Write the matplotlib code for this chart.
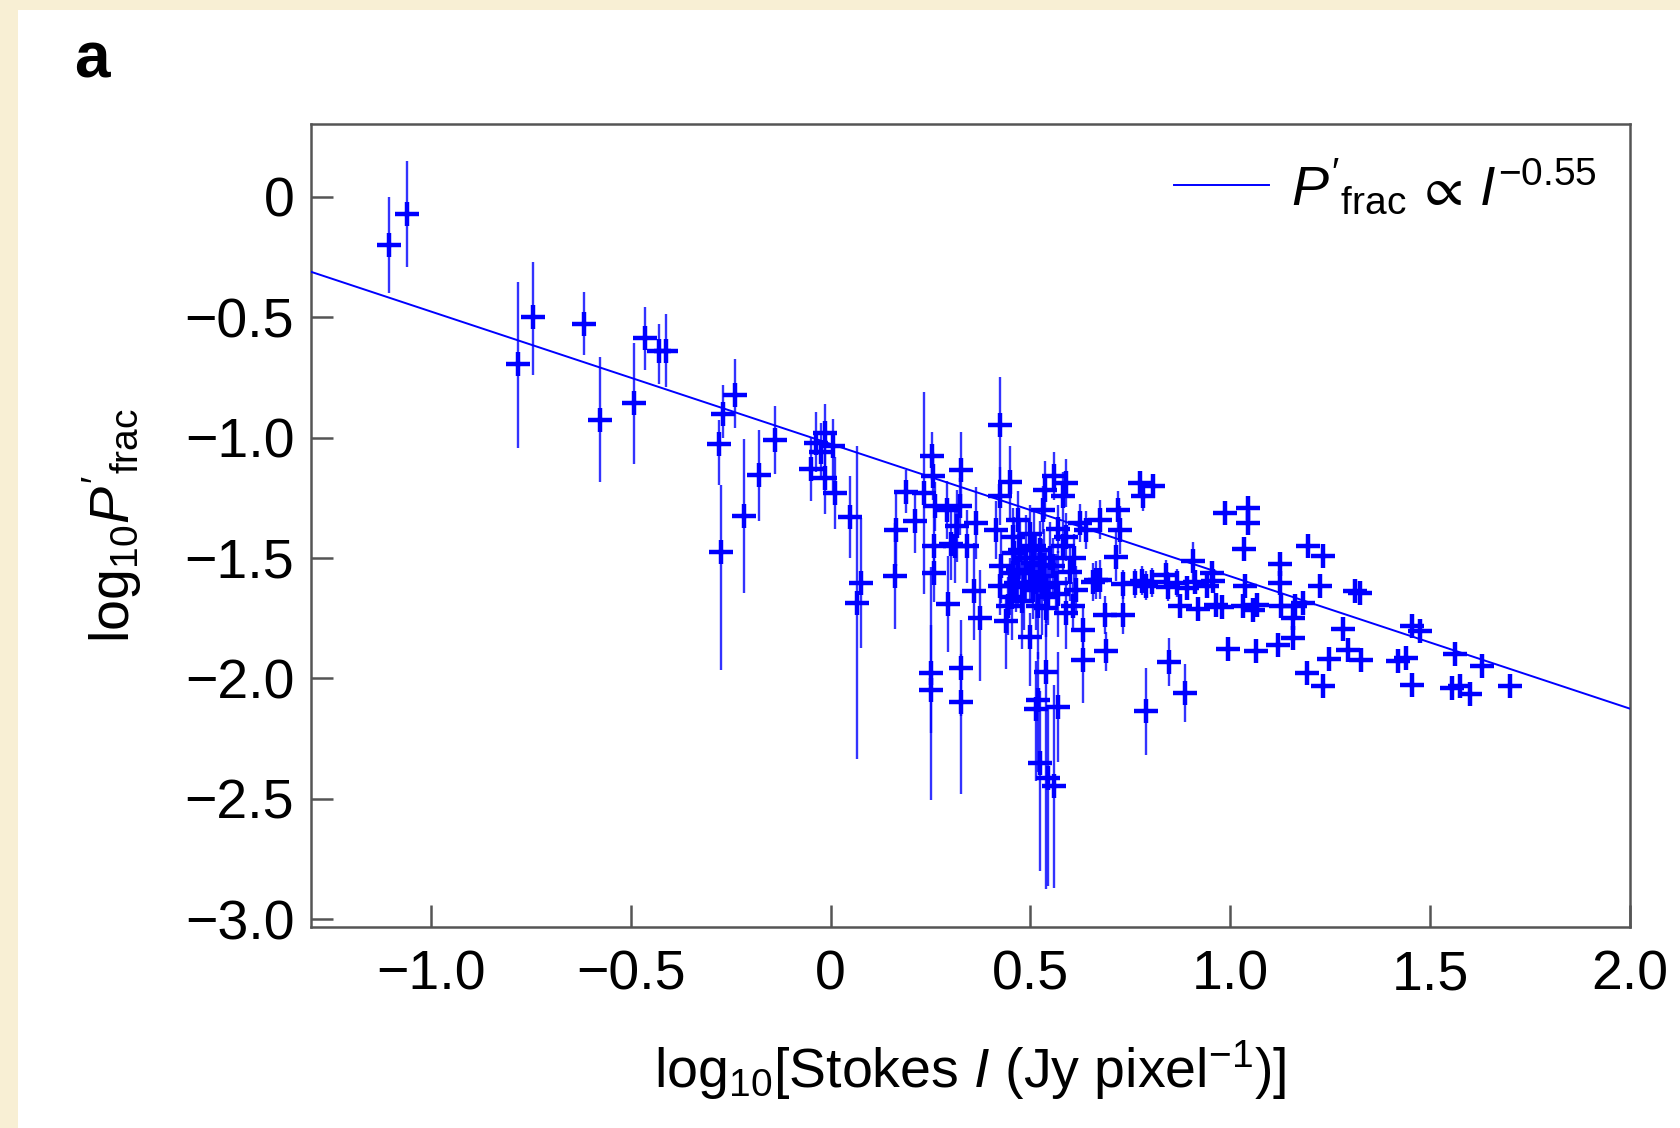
import matplotlib

matplotlib.use("Agg")
import matplotlib.pyplot as plt
from matplotlib.patches import Rectangle
import numpy as np

plt.rcParams["font.family"] = ["Liberation Sans", "DejaVu Sans"]
plt.rcParams["mathtext.fontset"] = "custom"
plt.rcParams["mathtext.rm"] = "Liberation Sans"
plt.rcParams["mathtext.it"] = "Liberation Sans:italic"
plt.rcParams["mathtext.bf"] = "Liberation Sans:bold"
plt.rcParams["mathtext.fallback"] = "stixsans"

# log10 Stokes I, log10 P'frac, lower / upper error on log10 P'frac
log_i = [
    # sparse left part
    -1.104, -1.059, -0.783, -0.745, -0.618, -0.576, -0.491, -0.464, -0.430, -0.411,
    -0.270, -0.240, -0.278, -0.274, -0.217, -0.179, -0.138,
    -0.049, -0.036, -0.013, 0.006, -0.023, -0.013, 0.010, 0.048, 0.077, 0.066,
    # 0.15 .. 0.45
    0.160, 0.164, 0.188, 0.210, 0.233, 0.254, 0.256, 0.250, 0.252, 0.258,
    0.258, 0.260, 0.290, 0.300, 0.315, 0.323, 0.327, 0.310, 0.294, 0.327,
    0.327, 0.340, 0.360, 0.365, 0.373, 0.415, 0.423, 0.423, 0.427, 0.423,
    0.440, 0.444, 0.448, 0.448,
    # dense cluster 0.45 .. 0.67
    0.456, 0.456, 0.465, 0.469, 0.473, 0.498, 0.498, 0.506, 0.506, 0.523,
    0.523, 0.532, 0.536, 0.540, 0.540, 0.544, 0.556, 0.565, 0.582, 0.582,
    0.590, 0.590, 0.560, 0.540, 0.519, 0.513, 0.569, 0.523, 0.544, 0.558,
    0.615, 0.607, 0.632, 0.632, 0.623, 0.640, 0.665,
    0.470, 0.490, 0.510, 0.530, 0.550, 0.570, 0.600, 0.480, 0.520, 0.460,
    0.500, 0.570, 0.610, 0.590, 0.455, 0.515, 0.535, 0.485,
    # middle 0.65 .. 1.17
    0.673, 0.719, 0.723, 0.715, 0.773, 0.807, 0.782, 0.657, 0.673, 0.732,
    0.762, 0.778, 0.790, 0.805, 0.838, 0.845, 0.866, 0.891, 0.911, 0.941,
    0.957, 0.907, 0.953, 0.874, 0.919, 0.965, 0.978, 1.032, 1.058, 1.068,
    1.128, 1.161, 0.686, 0.732, 0.690, 0.986, 1.045, 1.045, 1.035, 1.124,
    1.124, 1.036, 0.995, 1.064, 1.120, 1.157, 1.157, 0.847, 0.886, 0.788,
    # right part
    1.195, 1.233, 1.224, 1.312, 1.324, 1.182, 1.282, 1.295, 1.328, 1.247,
    1.191, 1.233, 1.454, 1.474, 1.420, 1.439, 1.454, 1.562, 1.629, 1.554,
    1.574, 1.599, 1.700,
]
log_p = [
    -0.199, -0.072, -0.695, -0.500, -0.527, -0.926, -0.858, -0.587, -0.638, -0.638,
    -0.903, -0.822, -1.026, -1.476, -1.325, -1.157, -1.009,
    -1.132, -1.023, -0.981, -1.034, -1.058, -1.168, -1.231, -1.331, -1.602, -1.685,
    -1.574, -1.383, -1.224, -1.348, -1.231, -1.078, -1.161, -1.978, -2.047, -1.452,
    -1.563, -1.286, -1.300, -1.440, -1.368, -1.286, -1.136, -1.452, -1.690, -1.957,
    -2.100, -1.452, -1.639, -1.355, -1.750, -1.385, -0.947, -1.244, -1.535, -1.618,
    -1.763, -1.701, -1.186, -1.618,
    -1.411, -1.563, -1.604, -1.341, -1.466, -1.563, -1.830, -1.521, -1.632, -1.466,
    -1.576, -1.300, -1.219, -1.618, -1.708, -1.660, -1.535, -1.604, -1.452, -1.244,
    -1.189, -1.411, -1.160, -1.975, -2.089, -2.128, -2.119, -2.352, -2.414, -2.449,
    -1.632, -1.701, -1.798, -1.923, -1.355, -1.383, -1.591,
    -1.550, -1.500, -1.450, -1.620, -1.500, -1.650, -1.560, -1.680, -1.700, -1.480,
    -1.400, -1.380, -1.500, -1.730, -1.660, -1.600, -1.530, -1.620,
    -1.341, -1.300, -1.383, -1.494, -1.189, -1.200, -1.244, -1.600, -1.590, -1.610,
    -1.605, -1.595, -1.615, -1.600, -1.570, -1.620, -1.604, -1.625, -1.600, -1.615,
    -1.595, -1.514, -1.563, -1.700, -1.710, -1.695, -1.705, -1.700, -1.715, -1.695,
    -1.700, -1.700, -1.736, -1.736, -1.888, -1.311, -1.293, -1.355, -1.463, -1.524,
    -1.602, -1.618, -1.878, -1.888, -1.860, -1.750, -1.833, -1.933, -2.061, -2.137,
    -1.452, -1.491, -1.615, -1.639, -1.645, -1.688, -1.795, -1.881, -1.925, -1.920,
    -1.978, -2.033, -1.784, -1.805, -1.929, -1.916, -2.027, -1.899, -1.950, -2.041,
    -2.033, -2.064, -2.033,
]
err_lo = [
    0.20, 0.22, 0.35, 0.24, 0.13, 0.26, 0.25, 0.13, 0.14, 0.15,
    0.10, 0.14, 0.17, 0.49, 0.32, 0.19, 0.14,
    0.13, 0.12, 0.20, 0.20, 0.12, 0.15, 0.15, 0.17, 0.27, 0.65,
    0.22, 0.15, 0.09, 0.13, 0.42, 0.10, 0.10, 0.25, 0.46, 0.12,
    0.12, 0.10, 0.12, 0.15, 0.15, 0.12, 0.15, 0.15, 0.20, 0.20,
    0.38, 0.15, 0.20, 0.15, 0.26, 0.12, 0.30, 0.12, 0.15, 0.12,
    0.20, 0.12, 0.15, 0.12,
    0.12, 0.10, 0.12, 0.12, 0.12, 0.12, 0.20, 0.12, 0.12, 0.12,
    0.12, 0.10, 0.12, 0.15, 0.12, 0.12, 0.12, 0.12, 0.10, 0.10,
    0.10, 0.10, 0.10, 0.90, 0.30, 0.30, 0.23, 0.45, 0.45, 0.42,
    0.10, 0.10, 0.10, 0.18, 0.08, 0.08, 0.08,
    0.15, 0.18, 0.15, 0.20, 0.15, 0.18, 0.12, 0.20, 0.22, 0.15,
    0.12, 0.10, 0.10, 0.15, 0.18, 0.20, 0.15, 0.18,
    0.08, 0.08, 0.10, 0.10, 0.05, 0.05, 0.06, 0.08, 0.08, 0.06,
    0.06, 0.06, 0.06, 0.06, 0.06, 0.06, 0.06, 0.05, 0.05, 0.05,
    0.05, 0.08, 0.05, 0.05, 0.05, 0.05, 0.05, 0.05, 0.05, 0.04,
    0.04, 0.04, 0.08, 0.08, 0.08, 0.04, 0.04, 0.04, 0.05, 0.05,
    0.05, 0.05, 0.04, 0.04, 0.04, 0.04, 0.04, 0.10, 0.12, 0.18,
    0.04, 0.04, 0.04, 0.04, 0.04, 0.04, 0.04, 0.04, 0.04, 0.04,
    0.04, 0.04, 0.04, 0.04, 0.04, 0.04, 0.04, 0.04, 0.04, 0.04,
    0.04, 0.04, 0.04,
]
err_hi = [
    0.20, 0.22, 0.34, 0.23, 0.13, 0.26, 0.25, 0.13, 0.11, 0.15,
    0.12, 0.15, 0.10, 0.28, 0.32, 0.19, 0.14,
    0.13, 0.13, 0.12, 0.11, 0.12, 0.15, 0.15, 0.17, 0.27, 0.65,
    0.22, 0.15, 0.09, 0.13, 0.42, 0.10, 0.10, 0.20, 0.51, 0.12,
    0.12, 0.10, 0.12, 0.15, 0.15, 0.12, 0.16, 0.15, 0.20, 0.20,
    0.20, 0.15, 0.20, 0.15, 0.20, 0.12, 0.20, 0.12, 0.15, 0.12,
    0.10, 0.12, 0.15, 0.12,
    0.12, 0.10, 0.12, 0.12, 0.12, 0.12, 0.10, 0.12, 0.12, 0.12,
    0.12, 0.10, 0.12, 0.15, 0.12, 0.12, 0.12, 0.12, 0.10, 0.10,
    0.10, 0.10, 0.10, 0.20, 0.20, 0.20, 0.23, 0.30, 0.30, 0.42,
    0.10, 0.10, 0.10, 0.10, 0.08, 0.08, 0.08,
    0.15, 0.18, 0.15, 0.20, 0.15, 0.18, 0.12, 0.20, 0.22, 0.15,
    0.12, 0.10, 0.10, 0.15, 0.18, 0.20, 0.15, 0.18,
    0.08, 0.08, 0.10, 0.10, 0.05, 0.05, 0.06, 0.08, 0.08, 0.06,
    0.06, 0.06, 0.06, 0.06, 0.06, 0.06, 0.06, 0.05, 0.05, 0.05,
    0.05, 0.08, 0.05, 0.05, 0.05, 0.05, 0.05, 0.05, 0.05, 0.04,
    0.04, 0.04, 0.08, 0.08, 0.08, 0.04, 0.04, 0.04, 0.05, 0.05,
    0.05, 0.05, 0.04, 0.04, 0.04, 0.04, 0.04, 0.10, 0.12, 0.18,
    0.04, 0.04, 0.04, 0.04, 0.04, 0.04, 0.04, 0.04, 0.04, 0.04,
    0.04, 0.04, 0.04, 0.04, 0.04, 0.04, 0.04, 0.04, 0.04, 0.04,
    0.04, 0.04, 0.04,
]

FIT_SLOPE = -0.55
FIT_INTERCEPT = -1.026

X_TICKS = [-1.0, -0.5, 0.0, 0.5, 1.0, 1.5, 2.0]
X_TICK_LABELS = ["\u22121.0", "\u22120.5", "0", "0.5", "1.0", "1.5", "2.0"]
Y_TICKS = [0.0, -0.5, -1.0, -1.5, -2.0, -2.5, -3.0]
Y_TICK_LABELS = ["0", "\u22120.5", "\u22121.0", "\u22121.5", "\u22122.0", "\u22122.5", "\u22123.0"]

BLUE = "#0000ff"
SPINE = "#555555"
W, H = 1681, 1128
FS = 40

fig = plt.figure(figsize=(W / 100, H / 100), dpi=100, facecolor="#f8efd4")
# white panel the figure sits on (behind the axes)
fig.add_artist(Rectangle((18 / W, 0), 1 - 18 / W, 1 - 10 / H, transform=fig.transFigure,
                         facecolor="white", edgecolor="none", zorder=-10))

ax = fig.add_axes([311 / W, 1 - 927 / H, (1630 - 311) / W, (927 - 124) / H])
ax.set_facecolor("white")

x = np.array(log_i)
y = np.array(log_p)
ax.errorbar(x, y, yerr=[err_lo, err_hi], fmt="none", ecolor=BLUE, elinewidth=1.7,
            alpha=0.8, capsize=0, zorder=2)
ax.plot(x, y, "+", color=BLUE, markersize=17, markeredgewidth=3.2, zorder=3)

xf = np.array([-1.3, 2.0])
ax.plot(xf, FIT_INTERCEPT + FIT_SLOPE * xf, color=BLUE, linewidth=1.4, zorder=4,
        label=r"$\mathit{P}'_{\mathrm{frac}}\,\propto\,\mathit{I}^{-0.55}$")

ax.set_xlim(-1.3, 2.0)
ax.set_ylim(-3.033, 0.303)
ax.set_xticks(X_TICKS, X_TICK_LABELS)
ax.set_yticks(Y_TICKS, Y_TICK_LABELS)
ax.tick_params(direction="in", length=16, width=1.8, color=SPINE, labelsize=FS)
ax.tick_params(axis="x", pad=16)
ax.tick_params(axis="y", pad=12)
for s in ax.spines.values():
    s.set_color(SPINE)
    s.set_linewidth(1.8)

ax.set_xlabel(r"$\mathrm{log}_{10}$[Stokes $\mathit{I}$ (Jy pixel$^{-1}$)]", fontsize=FS, labelpad=27)
ax.set_ylabel(r"$\mathrm{log}_{10}\mathit{P}'_{\mathrm{frac}}$", fontsize=FS, labelpad=29)

leg = ax.legend(loc="upper right", frameon=False, fontsize=FS, handlelength=1.7,
                handletextpad=0.4, borderaxespad=0.2)

fig.text(74 / W, 1 - 77 / H, "a", fontsize=46, fontweight="bold", ha="left", va="baseline")

fig.savefig("out.png", dpi=100, facecolor=fig.get_facecolor())
